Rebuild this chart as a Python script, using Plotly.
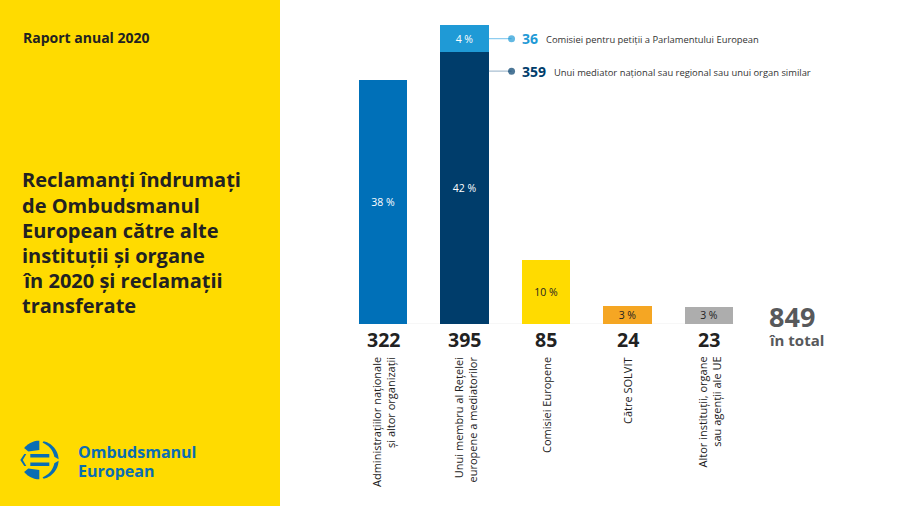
"""Reclamanti indrumati de Ombudsmanul European, raport anual 2020."""
import math

import plotly.graph_objects as go

WIDTH, HEIGHT = 900, 506
FONT = 'Open Sans'
DARK = '#222222'
LOGO_BLUE = '#0a6db3'

categories = ['Administrațiilor naționale<br>și altor organizații',
              'Unui membru al Rețelei<br>europene a mediatorilor',
              'Comisiei Europene',
              'Către SOLVIT',
              'Altor instituții, organe<br>sau agenții ale UE']
totals = [322, 395, 85, 24, 23]
base_values = [322, 359, 85, 24, 23]
base_labels = ['38 %', '42 %', '10 %', '3 %', '3 %']
base_colors = ['#0070b8', '#003d6b', '#ffdb00', '#f5a623', '#adadad']
base_text_colors = ['white', 'white', DARK, DARK, DARK]
top_values = [None, 36, None, None, None]
top_labels = ['', '4 %', '', '', '']
title_lines = ['Reclamanți îndrumați', 'de Ombudsmanul', 'European către alte',
               'instituții și organe', 'în 2020 și reclamații', 'transferate']
callout_numbers = ['36', '359']
callout_texts = ['Comisiei pentru petiții a Parlamentului European',
                 'Unui mediator național sau regional sau unui organ similar']
callout_colors = ['#1f9ad6', '#003d6b']
callout_lines = ['#8ecdf0', '#a9bfd2']
callout_levels = [377, 334]
grand_total = 849


def px(x):
    return x / WIDTH


def py(y):
    return 1 - y / HEIGHT


def label(x, y, text, size, color=DARK, bold=False, **kwargs):
    """Place a text at page pixel coordinates."""
    text = f'<b>{text}</b>' if bold else text
    return dict(x=px(x), y=py(y), xref='paper', yref='paper', text=text, showarrow=False,
                font=dict(family=FONT, size=size, color=color),
                xanchor=kwargs.pop('xanchor', 'left'), yanchor=kwargs.pop('yanchor', 'middle'),
                borderpad=0, **kwargs)


def arc(cx, cy, r, start, end, n=14):
    """Return polygon points along a circle, angles in degrees, y pointing down."""
    return [(cx + r * math.cos(math.radians(start + (end - start) * i / n)),
             cy + r * math.sin(math.radians(start + (end - start) * i / n))) for i in range(n + 1)]


def polygon(points):
    """Return a filled shape for page pixel points."""
    path = 'M' + ' L'.join(f'{px(x):.5f},{py(y):.5f}' for x, y in points) + ' Z'
    return dict(type='path', path=path, xref='paper', yref='paper',
                fillcolor=LOGO_BLUE, line=dict(width=0))


def logo_shapes(cx, cy, r):
    shapes = []
    for sign in (1, -1):
        # left dome and thin right crescent, mirrored for the bottom half
        dome = arc(cx, cy, r, 218, 270) + [(cx, cy - 10), (cx - 11, cy - 8.5)]
        crescent = arc(cx, cy, r, 283, 358) + arc(cx - 3, cy, r - 1, 350, 290)
        shapes.append(polygon([(x, cy + sign * (y - cy)) for x, y in dome]))
        shapes.append(polygon([(x, cy + sign * (y - cy)) for x, y in crescent]))
        # horizontal bars of the E
        shapes.append(polygon([(cx - 9, cy - 6 * sign), (cx + 10, cy - 6 * sign),
                               (cx + 10, cy - 2.5 * sign), (cx - 9, cy - 2.5 * sign)]))
    # left chevron
    shapes.append(polygon([(cx - 19, cy), (cx - 15, cy - 6), (cx - 13, cy - 6), (cx - 16.5, cy),
                           (cx - 13, cy + 6), (cx - 15, cy + 6)]))
    return shapes


x_pos = list(range(len(categories)))

fig = go.Figure()
fig.add_trace(go.Bar(x=x_pos, y=base_values, width=0.6, text=base_labels,
                     marker=dict(color=base_colors, line=dict(width=0)),
                     textposition='inside', insidetextanchor='middle', textangle=0,
                     constraintext='none',
                     insidetextfont=dict(family=FONT, size=10.5, color=base_text_colors),
                     hoverinfo='skip'))
fig.add_trace(go.Bar(x=x_pos, y=top_values, width=0.6, text=top_labels,
                     marker=dict(color='#1f9ad6', line=dict(width=0)),
                     textposition='inside', insidetextanchor='middle', textangle=0,
                     constraintext='none',
                     insidetextfont=dict(family=FONT, size=10.5, color='white'),
                     hoverinfo='skip'))

for level, line_color, dot_color in zip(callout_levels, callout_lines, callout_colors):
    fig.add_trace(go.Scatter(x=[1.3, 1.577], y=[level, level], mode='lines+markers',
                             line=dict(color=line_color, width=1.2),
                             marker=dict(size=[0, 7], color=dot_color, line=dict(width=0)),
                             hoverinfo='skip'))

annotations = [label(22, 37.5, 'Raport anual 2020', 14, bold=True)]
for i, line in enumerate(title_lines):
    annotations.append(label(21, 180 + i * 25, line, 20, bold=True))
annotations.append(label(77, 452, 'Ombudsmanul', 16, LOGO_BLUE, bold=True, height=18))
annotations.append(label(77, 471, 'European', 16, LOGO_BLUE, bold=True, height=18))

for i, (total, name) in enumerate(zip(totals, categories)):
    annotations.append(dict(x=i, y=py(339), xref='x', yref='paper', text=f'<b>{total}</b>',
                            showarrow=False, xanchor='center', yanchor='middle',
                            font=dict(family=FONT, size=19.5, color=DARK)))
    annotations.append(dict(x=i, y=py(355), xref='x', yref='paper', text=name, showarrow=False,
                            textangle=-90, xanchor='center', yanchor='top', align='right',
                            font=dict(family=FONT, size=11, color=DARK)))

for y, number, text, color, text_x in zip([38.5, 71.5], callout_numbers, callout_texts,
                                          callout_colors, [545, 553]):
    annotations.append(label(521, y, number, 14, color, bold=True))
    annotations.append(label(text_x, y + 1, text, 9.4, '#333333'))

annotations.append(label(768, 316, str(grand_total), 27, '#58595b', bold=True, height=26))
annotations.append(label(768, 340, 'în total', 15, '#58595b', bold=True, height=18))

shapes = [dict(type='rect', xref='paper', yref='paper', x0=0, x1=px(280), y0=0, y1=1,
               fillcolor='#ffdb00', line=dict(width=0), layer='below'),
          dict(type='line', xref='x', yref='y', x0=-0.3, x1=4.3, y0=0, y1=0,
               line=dict(color='#eeeeee', width=1), layer='below')]
shapes += logo_shapes(39.3, 460, 19.3)

fig.update_layout(
    width=WIDTH, height=HEIGHT, autosize=False, barmode='stack', bargap=0.4,
    margin=dict(l=0, r=0, t=0, b=0), showlegend=False,
    paper_bgcolor='white', plot_bgcolor='rgba(0,0,0,0)',
    xaxis=dict(domain=[px(342.25), px(749.75)], range=[-0.5, 4.5], visible=False),
    yaxis=dict(domain=[py(324), py(25)], range=[0, 395], visible=False),
    annotations=annotations, shapes=shapes,
)

# the page keeps the browser's default body margin otherwise
fig.write_html('out.html', config={'displayModeBar': False},
               post_script="document.body.style.margin = '0';")
